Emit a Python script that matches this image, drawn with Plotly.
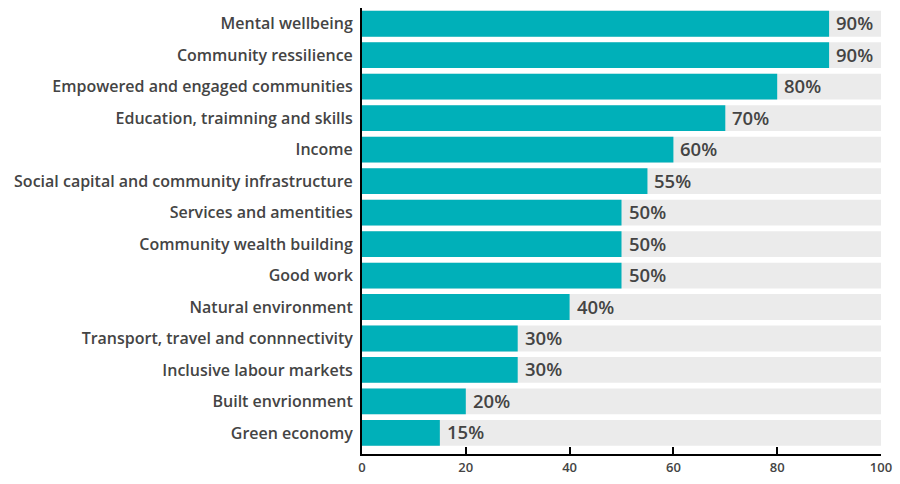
import plotly.graph_objects as go

categories = [
    "Mental wellbeing",
    "Community ressilience",
    "Empowered and engaged communities",
    "Education, traimning and skills",
    "Income",
    "Social capital and community infrastructure",
    "Services and amentities",
    "Community wealth building",
    "Good work",
    "Natural environment",
    "Transport, travel and connnectivity",
    "Inclusive labour markets",
    "Built envrionment",
    "Green economy",
]
values = [90, 90, 80, 70, 60, 55, 50, 50, 50, 40, 30, 30, 20, 15]
track_max = [100] * len(categories)
x_ticks = [0, 20, 40, 60, 80, 100]

TEAL = "#00B0B9"
TRACK = "#EBEBEB"
INK = "#444444"
FONT = "Open Sans"

fig = go.Figure()

# full-width grey track behind each bar
fig.add_trace(go.Bar(
    y=categories, x=track_max, orientation="h",
    marker=dict(color=TRACK, line=dict(width=0)),
    hoverinfo="skip", showlegend=False,
))

# value bars
fig.add_trace(go.Bar(
    y=categories, x=values, orientation="h",
    marker=dict(color=TEAL, line=dict(width=0)),
    showlegend=False,
))

# percentage labels just past each bar end
for cat, v in zip(categories, values):
    fig.add_annotation(
        x=v, y=cat, text=f"{v}%", showarrow=False,
        xanchor="left", xshift=5, yshift=1,
        font=dict(family=FONT, size=18.5, color=INK, weight=600),
    )

fig.update_layout(
    width=900, height=484,
    barmode="overlay",
    bargap=0.18,
    plot_bgcolor="white", paper_bgcolor="white",
    margin=dict(l=362, r=16, t=8, b=28),
    font=dict(family=FONT, color=INK),
    xaxis=dict(
        range=[0, 100], tickvals=x_ticks,
        showgrid=False, zeroline=False,
        showline=True, linecolor="black", linewidth=2,
        ticks="inside", ticklen=7, tickwidth=2, tickcolor="black",
        tickfont=dict(family=FONT, size=13, color=INK, weight=600),
    ),
    yaxis=dict(
        categoryorder="array", categoryarray=categories,
        range=[13.67, -0.5],
        showgrid=False, zeroline=False,
        showline=True, linecolor="black", linewidth=2,
        ticks="", ticklabelstandoff=4,
        tickfont=dict(family=FONT, size=16, color=INK, weight=600),
    ),
)

fig.write_html("out.html")
